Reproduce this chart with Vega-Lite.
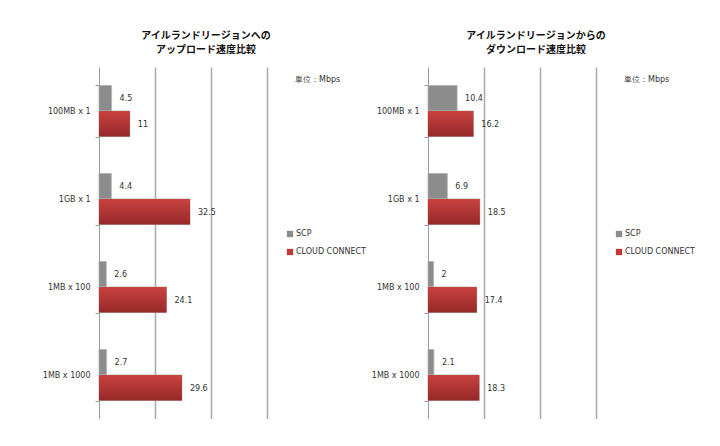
{
  "$schema": "https://vega.github.io/schema/vega-lite/v6.json",
  "padding": {"left": 0, "top": 31, "right": 0, "bottom": 0},
  "background": "white",
  "config": {
    "view": {"stroke": null},
    "font": "DejaVu Sans",
    "title": {"font": "Noto Sans CJK JP", "fontSize": 10, "fontWeight": "bold", "color": "#111111", "lineHeight": 14, "anchor": "middle", "offset": 8}
  },
  "datasets": {
    "upload": [
      {"size": "100MB x 1", "series": "SCP", "value": 4.5},
      {"size": "100MB x 1", "series": "CLOUD CONNECT", "value": 11},
      {"size": "1GB x 1", "series": "SCP", "value": 4.4},
      {"size": "1GB x 1", "series": "CLOUD CONNECT", "value": 32.5},
      {"size": "1MB x 100", "series": "SCP", "value": 2.6},
      {"size": "1MB x 100", "series": "CLOUD CONNECT", "value": 24.1},
      {"size": "1MB x 1000", "series": "SCP", "value": 2.7},
      {"size": "1MB x 1000", "series": "CLOUD CONNECT", "value": 29.6}
    ],
    "download": [
      {"size": "100MB x 1", "series": "SCP", "value": 10.4},
      {"size": "100MB x 1", "series": "CLOUD CONNECT", "value": 16.2},
      {"size": "1GB x 1", "series": "SCP", "value": 6.9},
      {"size": "1GB x 1", "series": "CLOUD CONNECT", "value": 18.5},
      {"size": "1MB x 100", "series": "SCP", "value": 2},
      {"size": "1MB x 100", "series": "CLOUD CONNECT", "value": 17.4},
      {"size": "1MB x 1000", "series": "SCP", "value": 2.1},
      {"size": "1MB x 1000", "series": "CLOUD CONNECT", "value": 18.3}
    ]
  },
  "bounds": "flush",
  "spacing": 161,
  "resolve": {"legend": {"color": "independent"}, "scale": {"color": "independent"}},
  "hconcat": [
    {
      "title": {"text": ["アイルランドリージョンへの", "アップロード速度比較"], "dx": 23},
      "width": 168,
      "height": 352,
      "data": {"name": "upload"},
      "encoding": {
        "y": {"field": "size", "type": "nominal", "sort": ["100MB x 1", "1GB x 1", "1MB x 100", "1MB x 1000"],
              "scale": {"paddingInner": 0.42, "paddingOuter": 0.21},
              "axis": {"title": null, "tickBand": "extent", "tickSize": 4, "labelPadding": 5, "domainColor": "#9a9a9a", "tickColor": "#9a9a9a", "labelFont": "DejaVu Sans", "labelFontSize": 8, "labelColor": "#333333", "minExtent": 99}},
        "x": {"field": "value", "type": "quantitative", "scale": {"domain": [0, 60], "nice": false, "zero": true},
              "axis": {"title": null, "labels": false, "ticks": false, "domain": false, "grid": true, "values": [20, 40, 60], "gridColor": "#a8a8a8", "gridWidth": 1.5}}
      },
      "layer": [
        {
          "mark": {"type": "bar", "stroke": "#b0b0b0", "strokeWidth": 0.8},
          "encoding": {
            "yOffset": {"field": "series", "sort": ["SCP", "CLOUD CONNECT"]},
            "color": {"field": "series", "type": "nominal",
                      "scale": {"domain": ["SCP", "CLOUD CONNECT"], "range": ["#8c8c8c", "#c0393a"]},
                      "legend": {"orient": "none", "legendX": 187, "legendY": 163, "title": null, "symbolType": "square", "symbolSize": 40, "symbolStrokeWidth": 0, "labelFont": "DejaVu Sans", "labelFontSize": 8, "labelColor": "#333333", "labelOffset": 2, "rowPadding": 10, "padding": 0}}
          }
        },
        {
          "transform": [{"filter": "datum.series === 'CLOUD CONNECT'"}],
          "mark": {"type": "bar", "fill": {"gradient": "linear", "x1": 0, "y1": 0, "x2": 0, "y2": 1, "stops": [{"offset": 0, "color": "#c9423f"}, {"offset": 1, "color": "#962929"}]}},
          "encoding": {
            "yOffset": {"field": "series", "sort": ["SCP", "CLOUD CONNECT"]}
          }
        },
        {
          "mark": {"type": "text", "align": "left", "baseline": "middle", "dx": 8, "dy": 1, "fontSize": 8, "font": "DejaVu Sans", "color": "#333333"},
          "encoding": {
            "yOffset": {"field": "series", "sort": ["SCP", "CLOUD CONNECT"]},
            "text": {"field": "value", "type": "quantitative"}
          }
        },
        {
          "transform": [{"filter": "datum.size === '100MB x 1' && datum.series === 'SCP'"}],
          "mark": {"type": "text", "align": "left", "baseline": "middle", "dy": -31, "fontSize": 8, "font": "DejaVu Sans", "fontWeight": "normal", "color": "#333333"},
          "encoding": {
            "x": {"datum": 70},
            "y": {"datum": "100MB x 1"},
            "text": {"value": "単位：Mbps"}
          }
        }
      ]
    },
    {
      "title": {"text": ["アイルランドリージョンからの", "ダウンロード速度比較"], "dx": 24},
      "width": 168,
      "height": 352,
      "data": {"name": "download"},
      "encoding": {
        "y": {"field": "size", "type": "nominal", "sort": ["100MB x 1", "1GB x 1", "1MB x 100", "1MB x 1000"],
              "scale": {"paddingInner": 0.42, "paddingOuter": 0.21},
              "axis": {"title": null, "tickBand": "extent", "tickSize": 4, "labelPadding": 5, "domainColor": "#9a9a9a", "tickColor": "#9a9a9a", "labelFont": "DejaVu Sans", "labelFontSize": 8, "labelColor": "#333333"}},
        "x": {"field": "value", "type": "quantitative", "scale": {"domain": [0, 60], "nice": false, "zero": true},
              "axis": {"title": null, "labels": false, "ticks": false, "domain": false, "grid": true, "values": [20, 40, 60], "gridColor": "#a8a8a8", "gridWidth": 1.5}}
      },
      "layer": [
        {
          "mark": {"type": "bar", "stroke": "#b0b0b0", "strokeWidth": 0.8},
          "encoding": {
            "yOffset": {"field": "series", "sort": ["SCP", "CLOUD CONNECT"]},
            "color": {"field": "series", "type": "nominal",
                      "scale": {"domain": ["SCP", "CLOUD CONNECT"], "range": ["#8c8c8c", "#c0393a"]},
                      "legend": {"orient": "none", "legendX": 187, "legendY": 163, "title": null, "symbolType": "square", "symbolSize": 40, "symbolStrokeWidth": 0, "labelFont": "DejaVu Sans", "labelFontSize": 8, "labelColor": "#333333", "labelOffset": 2, "rowPadding": 10, "padding": 0}}
          }
        },
        {
          "transform": [{"filter": "datum.series === 'CLOUD CONNECT'"}],
          "mark": {"type": "bar", "fill": {"gradient": "linear", "x1": 0, "y1": 0, "x2": 0, "y2": 1, "stops": [{"offset": 0, "color": "#c9423f"}, {"offset": 1, "color": "#962929"}]}},
          "encoding": {
            "yOffset": {"field": "series", "sort": ["SCP", "CLOUD CONNECT"]}
          }
        },
        {
          "mark": {"type": "text", "align": "left", "baseline": "middle", "dx": 8, "dy": 1, "fontSize": 8, "font": "DejaVu Sans", "color": "#333333"},
          "encoding": {
            "yOffset": {"field": "series", "sort": ["SCP", "CLOUD CONNECT"]},
            "text": {"field": "value", "type": "quantitative"}
          }
        },
        {
          "transform": [{"filter": "datum.size === '100MB x 1' && datum.series === 'SCP'"}],
          "mark": {"type": "text", "align": "left", "baseline": "middle", "dy": -31, "fontSize": 8, "font": "DejaVu Sans", "fontWeight": "normal", "color": "#333333"},
          "encoding": {
            "x": {"datum": 70},
            "y": {"datum": "100MB x 1"},
            "text": {"value": "単位：Mbps"}
          }
        }
      ]
    }
  ]
}
